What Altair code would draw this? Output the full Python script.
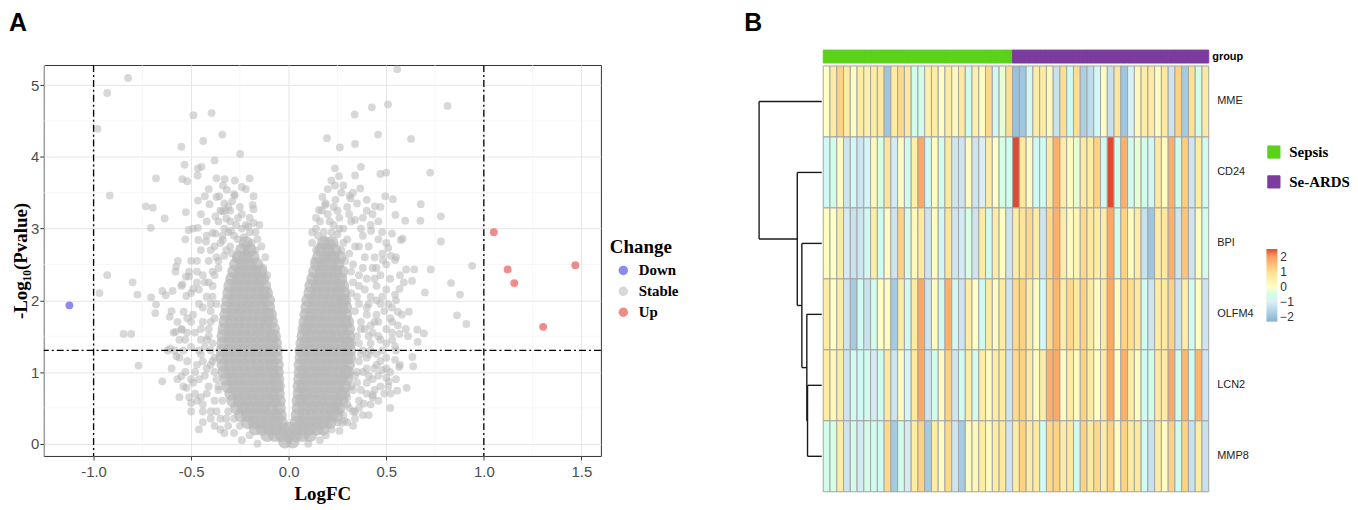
import altair as alt
import pandas as pd

# ================= Panel A : volcano plot =================
x_ticks = [-1.0, -0.5, 0.0, 0.5, 1.0, 1.5]
x_minor = [-1.25, -0.75, -0.25, 0.25, 0.75, 1.25]
y_ticks = [0, 1, 2, 3, 4, 5]
y_minor = [0.5, 1.5, 2.5, 3.5, 4.5]
logfc_cut = [-1.0, 1.0]
pvalue_cut = [1.301]

down_logfc = [-1.124]
down_logp = [1.93]
up_logfc = [1.051, 1.122, 1.156, 1.469, 1.304]
up_logp = [2.95, 2.43, 2.24, 2.49, 1.63]

# scattered "Stable" genes, left side (LogFC,-log10 p)
stable_left = """
-0.823,5.10 -0.93,4.89 -0.98,4.39 -0.917,3.46 -0.93,2.35 -0.97,2.10 -0.80,2.25 -0.775,2.08
-0.705,2.04 -0.68,1.94 -0.684,1.82 -0.61,1.77 -0.846,1.53 -0.807,1.53 -0.77,1.09 -0.648,0.87
-0.732,3.31 -0.696,3.29 -0.68,3.70 -0.707,3.01 -0.636,3.14 -0.488,4.58 -0.395,4.61 -0.34,4.31
-0.438,4.22 -0.55,4.14 -0.249,4.04 -0.38,3.95 -0.534,3.89 -0.447,3.86 -0.465,3.84 -0.467,3.74
-0.545,3.69 -0.52,3.66 -0.276,3.67 -0.328,3.69 -0.337,3.60 -0.317,3.54 -0.37,3.44 -0.356,3.45
-0.465,3.39 -0.406,3.34 -0.276,3.46 -0.185,3.33 -0.18,3.27 -0.527,3.23 -0.34,3.24 -0.326,3.25
-0.376,3.17 -0.32,3.14 -0.465,3.01 -0.513,2.98 -0.39,2.94 -0.207,3.03 -0.296,2.97 -0.463,2.84
-0.424,2.82 -0.376,2.93 -0.337,2.84 -0.568,2.55 -0.577,2.47 -0.527,2.33 -0.51,2.33 -0.648,2.13
-0.63,2.07 -0.595,2.13 -0.525,2.06 -0.545,2.22 -0.49,2.16 -0.538,1.84 -0.58,1.56 -0.547,1.59
-0.607,1.33 -0.575,1.22 -0.584,1.30 -0.55,0.94 -0.524,0.78 -0.50,0.57
-0.42,2.9 -0.45,2.7 -0.41,2.55 -0.47,2.4 -0.43,2.25 -0.5,2.1 -0.46,1.95 -0.4,1.85 -0.52,1.75
-0.44,1.7 -0.48,1.55 -0.42,1.45 -0.5,1.35 -0.45,1.25 -0.39,1.15 -0.47,1.1 -0.43,0.95 -0.49,0.85
-0.41,0.8 -0.45,0.65 -0.38,0.6 -0.4,0.45 -0.35,0.35 -0.31,0.25 -0.28,0.15 -0.55,1.6 -0.53,1.45
-0.56,1.2 -0.53,1.0 -0.57,0.9 -0.38,2.75 -0.36,2.45 -0.39,2.2 -0.37,1.95 -0.41,1.6 -0.4,1.3
-0.38,1.0 -0.36,0.75 -0.33,3.0 -0.3,3.1 -0.24,3.0 -0.2,2.95 -0.36,3.1 -0.26,2.85 -0.42,3.1
-0.45,3.2 -0.2,3.15 -0.58,2.4 -0.55,2.2 -0.6,1.85 -0.62,1.3 -0.5,2.55 -0.53,2.85 -0.49,3.0
-0.44,0.55 -0.48,0.7 -0.3,2.75 -0.22,2.78 -0.17,2.7 -0.33,2.62 -0.16,2.85 -0.25,3.3 -0.29,3.38
-0.22,3.55 -0.41,3.55 -0.43,3.45 -0.37,3.7 -0.24,3.2 -0.15,3.05 -0.27,3.05 -0.35,2.8 -0.39,2.4
-0.42,2.05 -0.4,1.7 -0.43,1.35 -0.42,1.05 -0.46,0.9 -0.37,0.45 -0.32,0.35 -0.45,1.45 -0.5,1.7
-0.47,2.25 -0.38,0.25 -0.33,0.15 -0.24,0.05 -0.16,0.0 -0.52,1.15 -0.6,1.05 -0.47,0.6 -0.42,0.7
-0.44,0.3
-0.37,2.6 -0.34,2.9 -0.31,2.95 -0.28,2.9 -0.23,2.88 -0.19,2.8 -0.21,2.7 -0.14,2.75 -0.12,2.6
-0.13,2.45 -0.11,2.35 -0.32,2.7 -0.29,2.65 -0.36,2.55 -0.4,2.7 -0.38,2.35 -0.41,2.25 -0.39,2.05
-0.4,1.95 -0.38,1.75 -0.41,1.5 -0.39,1.4 -0.38,1.2 -0.4,1.1 -0.37,0.9 -0.36,0.8 -0.34,0.6
-0.31,0.45 -0.28,0.35 -0.25,0.25 -0.2,0.12 -0.44,2.35 -0.46,2.15 -0.44,1.9 -0.45,1.6 -0.46,1.3
-0.44,1.15 -0.48,1.0 -0.5,0.9 -0.51,0.65 -0.44,0.45 -0.4,0.35 -0.35,0.2 -0.3,3.25 -0.26,3.15
-0.22,3.05 -0.18,3.08 -0.33,3.35 -0.28,3.48 -0.18,3.45 -0.24,3.58 -0.2,3.7 -0.31,3.3 -0.35,3.25
-0.17,2.95 -0.27,2.58 -0.47,2.55 -0.51,2.4 -0.49,1.8 -0.52,1.55 -0.56,1.45 -0.54,1.3 -0.57,1.7
-0.59,1.55 -0.54,0.8 -0.56,0.65 -0.5,0.45 -0.46,0.2
"""

# scattered "Stable" genes, right side
stable_right = """
0.556,5.22 0.509,4.73 0.426,4.69 0.814,4.71 0.338,4.59 0.458,4.31 0.627,4.25 0.196,4.26
0.34,4.18 0.262,4.13 0.237,3.84 0.37,3.86 0.50,3.78 0.47,3.76 0.725,3.78 0.34,3.74 0.258,3.73
0.219,3.67 0.237,3.60 0.367,3.56 0.173,3.44 0.312,3.46 0.317,3.42 0.495,3.45 0.534,3.41
0.677,3.34 0.40,3.40 0.442,3.31 0.155,3.26 0.187,3.33 0.547,3.19 0.78,3.17 0.597,3.11 0.675,3.11
0.46,3.10 0.34,3.12 0.422,2.97 0.479,2.95 0.529,2.93 0.584,2.86 0.78,2.82 0.51,2.73 0.728,2.43
0.643,2.43 0.94,2.48 0.832,2.24 0.878,2.08 0.698,2.11 0.862,1.79 0.91,1.67 0.616,1.84 0.659,1.59
0.693,1.54 0.611,1.50 0.568,1.53 0.661,1.42 0.545,1.36 0.634,1.21 0.638,1.08 0.566,1.07
0.545,1.17 0.513,0.87 0.522,0.70 0.556,0.74 0.604,0.78 0.479,1.03 0.50,0.92 0.34,0.45 0.271,0.29
0.285,0.32 0.385,0.56 0.431,0.68 0.529,1.90 0.559,1.84 0.545,2.08 0.568,2.16 0.59,2.25 0.602,2.43
0.632,2.27 0.524,2.62 0.545,2.56 0.575,2.84 0.483,2.56
0.38,2.9 0.41,2.75 0.39,2.6 0.43,2.45 0.4,2.3 0.45,2.2 0.42,2.05 0.47,1.95 0.4,1.8 0.44,1.7
0.39,1.6 0.46,1.5 0.42,1.4 0.48,1.3 0.4,1.2 0.45,1.1 0.38,1.0 0.43,0.9 0.47,0.8 0.4,0.7 0.36,0.6
0.33,0.45 0.3,0.3 0.26,0.18 0.5,1.6 0.53,1.45 0.5,1.2 0.52,1.0 0.46,0.6 0.37,3.0 0.32,3.1 0.28,3.0
0.23,3.05 0.42,3.05 0.46,2.85 0.48,2.65 0.5,2.5 0.52,2.3 0.55,2.0 0.49,1.85 0.36,2.2 0.37,1.7
0.38,1.3 0.35,0.85 0.2,3.2 0.25,3.25 0.3,3.3 0.18,2.95 0.15,2.9 0.35,3.35 0.43,3.2 0.47,3.3
0.5,2.8 0.55,2.6 0.57,2.35 0.58,1.8 0.6,1.6 0.55,1.3 0.34,0.35 0.3,0.55 0.2,3.55 0.28,3.6
0.16,3.1 0.12,2.95 0.34,2.75 0.3,2.85 0.27,2.7 0.22,2.8 0.19,2.75 0.33,2.5 0.36,2.35 0.35,2.05
0.34,1.85 0.35,1.5 0.36,1.15 0.33,0.75 0.3,0.65 0.26,0.45 0.21,0.3 0.16,0.05 0.1,0.0 0.24,3.4
0.19,3.35 0.14,3.0 0.4,3.25 0.44,2.6 0.47,2.35 0.41,1.95 0.45,1.8 0.43,1.55 0.41,1.25 0.44,1.05
0.4,0.85 0.38,0.4 0.5,1.4 0.53,1.7 0.47,1.15 0.42,0.55 0.33,3.5 0.27,3.5
0.31,2.65 0.28,2.8 0.25,2.92 0.22,2.95 0.18,2.85 0.16,2.75 0.14,2.7 0.13,2.55 0.12,2.8 0.29,2.55
0.32,2.4 0.33,2.25 0.32,2.1 0.36,1.95 0.37,1.6 0.36,1.4 0.37,1.25 0.35,1.0 0.34,0.95 0.32,0.8
0.31,0.5 0.28,0.4 0.25,0.3 0.22,0.2 0.19,0.12 0.38,2.45 0.39,2.15 0.4,1.9 0.42,1.65 0.41,1.5
0.42,1.3 0.4,1.05 0.41,0.95 0.37,0.75 0.36,0.5 0.33,0.25 0.44,2.3 0.45,2.0 0.46,1.7 0.47,1.45
0.45,1.25 0.46,0.95 0.44,0.75 0.43,0.65 0.41,0.4 0.5,2.15 0.51,1.95 0.52,1.75 0.5,1.05 0.49,0.7
0.52,0.5 0.21,3.1 0.26,3.15 0.31,3.2 0.17,3.25 0.23,3.3 0.14,3.15 0.38,3.15 0.36,2.75 0.26,3.0
0.2,2.6 0.17,2.5 0.45,2.45 0.48,2.05 0.53,1.55 0.56,1.65 0.57,1.1 0.55,0.9 0.51,0.8
"""

# dense V-shaped core of "Stable" genes: "-log10p: LogFC values"
stable_core = """
0.03: -0.02 0.02
0.12: -0.11 -0.07 -0.035 0 0.035 0.07 0.11
0.21: -0.17 -0.135 -0.1 -0.065 -0.03 0.005 0.04 0.075 0.11 0.145 0.175
0.30: -0.21 -0.175 -0.14 -0.105 -0.07 -0.04 0.04 0.07 0.105 0.14 0.175 0.21
0.40: -0.245 -0.21 -0.175 -0.14 -0.105 -0.07 -0.045 0.045 0.08 0.115 0.15 0.185 0.22 0.245
0.50: -0.265 -0.23 -0.195 -0.16 -0.125 -0.09 -0.05 0.05 0.085 0.12 0.155 0.19 0.225 0.255
0.60: -0.285 -0.25 -0.215 -0.18 -0.145 -0.11 -0.075 -0.05 0.05 0.07 0.105 0.14 0.175 0.21 0.245 0.27
0.70: -0.295 -0.26 -0.225 -0.19 -0.155 -0.12 -0.085 -0.055 0.055 0.09 0.125 0.16 0.195 0.23 0.265 0.28
0.80: -0.31 -0.275 -0.24 -0.205 -0.17 -0.135 -0.1 -0.065 -0.055 0.055 0.075 0.11 0.145 0.18 0.215 0.25 0.285
0.90: -0.32 -0.285 -0.25 -0.215 -0.18 -0.145 -0.11 -0.075 -0.058 0.058 0.09 0.125 0.16 0.195 0.23 0.265 0.295
1.00: -0.33 -0.295 -0.26 -0.225 -0.19 -0.155 -0.12 -0.085 -0.06 0.06 0.08 0.115 0.15 0.185 0.22 0.255 0.29 0.3
1.10: -0.335 -0.3 -0.265 -0.23 -0.195 -0.16 -0.125 -0.09 -0.06 0.06 0.095 0.13 0.165 0.2 0.235 0.27 0.305
1.20: -0.34 -0.305 -0.27 -0.235 -0.2 -0.165 -0.13 -0.095 -0.065 0.065 0.085 0.12 0.155 0.19 0.225 0.26 0.295 0.31
1.30: -0.34 -0.305 -0.27 -0.235 -0.2 -0.165 -0.13 -0.095 -0.065 0.065 0.1 0.135 0.17 0.205 0.24 0.275 0.31
1.40: -0.335 -0.3 -0.265 -0.23 -0.195 -0.16 -0.125 -0.09 -0.07 0.07 0.09 0.125 0.16 0.195 0.23 0.265 0.3 0.31
1.50: -0.335 -0.3 -0.265 -0.23 -0.195 -0.16 -0.125 -0.09 -0.075 0.075 0.105 0.14 0.175 0.21 0.245 0.28 0.305
1.60: -0.33 -0.295 -0.26 -0.225 -0.19 -0.155 -0.12 -0.08 0.08 0.095 0.13 0.165 0.2 0.235 0.27 0.305
1.70: -0.325 -0.29 -0.255 -0.22 -0.185 -0.15 -0.115 -0.09 0.085 0.11 0.145 0.18 0.215 0.25 0.285 0.3
1.80: -0.32 -0.285 -0.25 -0.215 -0.18 -0.145 -0.11 -0.095 0.09 0.12 0.155 0.19 0.225 0.26 0.29
1.90: -0.315 -0.28 -0.245 -0.21 -0.175 -0.14 -0.105 0.095 0.13 0.165 0.2 0.235 0.27 0.29
2.00: -0.31 -0.275 -0.24 -0.205 -0.17 -0.135 -0.105 0.1 0.135 0.17 0.205 0.24 0.275 0.285
2.10: -0.305 -0.27 -0.235 -0.2 -0.165 -0.13 -0.115 0.11 0.145 0.18 0.215 0.25 0.28
2.20: -0.3 -0.265 -0.23 -0.195 -0.16 -0.125 0.115 0.15 0.185 0.22 0.255 0.275
2.30: -0.29 -0.255 -0.22 -0.185 -0.15 -0.135 0.125 0.16 0.195 0.23 0.265
2.40: -0.28 -0.245 -0.21 -0.175 -0.145 0.135 0.17 0.205 0.24 0.27
2.50: -0.27 -0.235 -0.2 -0.165 0.145 0.18 0.215 0.25
2.60: -0.255 -0.22 -0.185 0.155 0.19 0.225 0.26
2.70: -0.24 -0.2 0.165 0.2 0.235
2.80: -0.22 0.18 0.22
"""


def parse_pairs(s):
    return [tuple(float(v) for v in p.split(",")) for p in s.split()]


def parse_rows(s):
    out = []
    for line in s.strip().splitlines():
        yv, xs = line.split(":")
        for xv in xs.split():
            out.append((float(xv), float(yv)))
    return out


scatter_rows = [(x, y, "Stable") for x, y in parse_pairs(stable_left) + parse_pairs(stable_right)]
df_scatter = pd.DataFrame(scatter_rows, columns=["LogFC", "logp", "Change"])
df_core = pd.DataFrame([(x, y, "Stable") for x, y in parse_rows(stable_core)],
                       columns=["LogFC", "logp", "Change"])
df_sig = pd.DataFrame(
    [(x, y, "Down") for x, y in zip(down_logfc, down_logp)]
    + [(x, y, "Up") for x, y in zip(up_logfc, up_logp)],
    columns=["LogFC", "logp", "Change"])

SERIF = "Liberation Serif"
SANS = "Liberation Sans"

xs = alt.Scale(domain=[-1.255, 1.6], nice=False, zero=False)
ys = alt.Scale(domain=[-0.17, 5.28], nice=False, zero=False)
x_axis = alt.Axis(values=x_ticks, format=".1f", labelExpr="replace(datum.label, '−', '-')",
                  title="LogFC", titleFont=SERIF, titleFontSize=19,
                  titleFontWeight="bold", titleColor="black", titlePadding=5,
                  labelFont=SANS, labelFontSize=15, labelColor="#4D4D4D", labelPadding=5,
                  tickColor="#333333", tickSize=4, domain=False, grid=True,
                  gridColor="#E6E6E6", gridWidth=1)
y_axis = alt.Axis(values=y_ticks, format="d", title="-Log₁₀(Pvalue)", titleFont=SERIF,
                  titleFontSize=19, titleFontWeight="bold", titleColor="black", titlePadding=0,
                  labelFont=SANS, labelFontSize=15, labelColor="#4D4D4D", labelPadding=1,
                  tickColor="#333333", tickSize=4, domain=False, grid=True,
                  gridColor="#E6E6E6", gridWidth=1)


def X(field):
    return alt.X(field, type="quantitative", scale=xs, axis=x_axis)


def Y(field):
    return alt.Y(field, type="quantitative", scale=ys, axis=y_axis)


change_scale = alt.Scale(domain=["Down", "Stable", "Up"],
                         range=["#2A2AE7", "#B8B8B8", "#E92A2A"])
change_legend = alt.Legend(title="Change", orient="none", legendX=569, legendY=174,
                           titleFont=SERIF, titleFontSize=19, titleFontWeight="bold",
                           titleColor="black", titlePadding=6, labelFont=SERIF,
                           labelFontSize=15, labelFontWeight="bold", labelColor="black",
                           symbolType="circle", symbolSize=90, symbolOpacity=0.55,
                           symbolStrokeWidth=0, symbolOffset=6, labelOffset=8, rowPadding=5)
color_enc = alt.Color("Change:N", scale=change_scale, legend=change_legend)

minor_x = alt.Chart(pd.DataFrame({"v": x_minor})).mark_rule(
    color="#F2F2F2", strokeWidth=0.6).encode(x=X("v"))
minor_y = alt.Chart(pd.DataFrame({"v": y_minor})).mark_rule(
    color="#F2F2F2", strokeWidth=0.6).encode(y=Y("v"))

pts_scatter = alt.Chart(df_scatter).mark_circle(size=62, opacity=0.55).encode(
    x=X("LogFC"), y=Y("logp"), color=color_enc)
pts_core = alt.Chart(df_core).mark_circle(size=190, opacity=0.72).encode(
    x=X("LogFC"), y=Y("logp"), color=color_enc)
pts_sig = alt.Chart(df_sig).mark_circle(size=62, opacity=0.55).encode(
    x=X("LogFC"), y=Y("logp"), color=color_enc)

dash = [7, 3, 2, 3]
vcut = alt.Chart(pd.DataFrame({"v": logfc_cut})).mark_rule(
    color="black", strokeWidth=1.3, strokeDash=dash).encode(x=X("v"))
hcut = alt.Chart(pd.DataFrame({"v": pvalue_cut})).mark_rule(
    color="black", strokeWidth=1.3, strokeDash=dash).encode(y=Y("v"))

chart_a = alt.layer(minor_x, minor_y, pts_scatter, pts_core, pts_sig, vcut, hcut).properties(
    width=560, height=393,
    view=alt.ViewBackground(stroke="#333333", strokeWidth=1),
    title=alt.TitleParams("A", anchor="start", frame="group", font=SANS, fontSize=25,
                          fontWeight="bold", color="black", dx=-35, offset=29),
)

# ================= Panel B : heatmap =================
genes = ["MME", "CD24", "BPI", "OLFM4", "LCN2", "MMP8"]
samples = list(range(1, 58))
groups = ["Sepsis"] * 28 + ["Se-ARDS"] * 29

expr = {
    "MME": [0.0, 0.6, 1.2, 0.6, 0.1, 0.6, 0.5, 0.6, 0.7, -1.9, 0.6, 1.1, 0.7, -0.5, -0.5, 0.5,
            0.6, 0.1, 0.6, 0.2, 0.7, -0.6, 0.5, 0.1, 1.1, -0.7, -0.2, 1.0, -2.0, -1.9, -0.7, 0.6,
            0.6, 0.2, -1.3, 1.0, -0.6, 1.0, -1.7, -1.4, -0.7, 0.1, -1.3, 0.8, -1.9, -0.9, 0.2,
            0.6, 0.7, 0.1, 0.7, -1.2, 1.2, -1.8, 0.9, -0.5, 0.7],
    "CD24": [-0.7, -0.5, 0.1, -1.2, -0.7, -1.2, -0.8, 0.2, -0.4, 0.8, -1.1, 0.1, -0.6, 0.5, 1.8,
             -0.7, 0.1, -0.5, 0.7, -1.2, -1.2, 0.1, -1.2, -1.0, 0.6, 0.0, -0.4, -0.6, 2.5, 0.7,
             0.1, -0.7, -0.6, 0.6, 1.7, 0.6, 0.1, -0.2, 0.7, 0.6, 1.2, -0.6, 2.5, -0.5, 1.7, -0.6,
             -0.2, -0.5, -0.7, 0.7, 0.1, 1.7, -0.6, 1.3, -1.2, 0.6, -0.6],
    "BPI": [0.1, 0.0, 0.6, -1.1, -1.3, -1.2, -0.7, 0.6, -0.6, 0.1, -1.2, 1.2, -0.5, 0.2, 0.7,
            -1.2, 0.1, -0.7, 0.8, -1.2, -1.1, -0.4, -1.2, 0.6, -0.6, 0.6, 0.1, -1.2, 0.6, 0.8,
            1.1, 0.6, -1.2, 1.1, 1.7, 0.6, 0.1, 0.3, 1.1, 0.7, 0.6, 0.6, 1.8, -0.5, 1.2, 0.1, 0.6,
            -1.3, -1.9, 0.6, 0.7, 1.7, -1.2, 1.4, -1.2, 0.1, -0.5],
    "OLFM4": [0.6, 0.0, 0.6, -1.2, -1.8, -0.6, -1.3, -0.5, 0.0, 0.1, -1.8, 0.6, -0.6, 0.6, 1.8,
              -1.2, 0.1, -0.6, 1.7, -0.7, -1.2, 0.6, 0.0, -0.6, 0.6, 0.1, 0.6, -1.2, 1.1, 1.2,
              0.6, 0.1, -0.7, 1.1, 1.6, 0.6, 1.1, 0.7, 1.2, 0.6, 0.1, 0.7, 1.8, 0.1, 1.2, 1.0, 0.7,
              -0.6, -1.2, 0.6, 0.7, 1.2, -1.2, 0.6, -0.6, 0.1, -1.2],
    "LCN2": [0.6, 0.2, 0.6, -1.2, -0.6, -0.7, -0.6, -1.1, -0.6, 0.7, -1.2, 0.1, -0.7, 0.7, 1.8,
             -1.2, -0.5, 0.1, 1.2, -1.2, -0.6, 0.6, -0.6, 0.6, 0.1, 0.6, 0.6, -1.2, 1.1, 1.2, 0.6,
             0.1, 0.6, 1.7, 1.8, 0.1, 0.6, 0.1, 1.2, 0.6, 0.0, 0.7, 1.8, 0.0, 1.7, 0.6, 0.1, -0.6,
             -0.5, 0.7, 0.6, 1.8, -0.6, 1.6, -0.6, 1.6, -1.2],
    "MMP8": [-0.5, -0.4, 0.6, -1.2, -0.5, -1.1, -0.5, -0.6, -0.6, 1.1, -1.8, -0.5, -1.1, 0.6, 1.2,
             -1.8, 0.6, 0.1, 1.1, -1.2, -1.8, 0.1, 0.2, 0.6, 0.1, 0.6, 0.7, -1.2, 0.6, 1.2, 0.6,
             0.7, -0.6, 1.1, 1.2, 0.6, 0.7, -0.6, 1.2, 0.6, 1.1, 0.6, 1.2, 0.1, 1.2, 0.6, 0.7,
             -0.6, -1.3, 0.6, 0.1, 1.2, -0.6, 1.2, -1.3, 0.6, -1.3],
}

# hierarchical clustering of rows: (child A, child B, merge height)
merges = [("LCN2", "MMP8", 1.43), ("OLFM4", "m1", 1.50), ("BPI", "m2", 2.00),
          ("CD24", "m3", 2.46), ("MME", "m4", 6.30)]

df_heat = pd.DataFrame([(s, g, expr[g][i]) for g in genes for i, s in enumerate(samples)],
                       columns=["sample", "gene", "value"])
df_group = pd.DataFrame({"sample": samples, "group": groups, "lab": ["group"] * len(samples)})

node = {g: (i + 0.5, 0.0) for i, g in enumerate(genes)}
segs = []
for k, (a, b, h) in enumerate(merges, start=1):
    pa, ha = node[a]
    pb, hb = node[b]
    segs.append((ha, h, pa, pa))
    segs.append((hb, h, pb, pb))
    segs.append((h, h, pa, pb))
    node["m%d" % k] = ((pa + pb) / 2, h)
df_dend = pd.DataFrame(segs, columns=["h1", "h2", "p1", "p2"])

HB_W, HB_H = 454, 429
col_scale = alt.Scale(domain=samples, range=[66.5, HB_W], paddingInner=0, paddingOuter=0)
x_cols = alt.X("sample:O", scale=col_scale, axis=None)

heat_colors = alt.Scale(domain=[-2.3, -1, 0, 1, 2, 2.5],
                        range=["#86B4D6", "#DCEEF5", "#FFFFC6", "#FEDF8F", "#FB9B60", "#DF4A32"])
heat = alt.Chart(df_heat).mark_rect(stroke="#A3A3A3", strokeWidth=1).encode(
    x=x_cols,
    y=alt.Y("gene:N", scale=alt.Scale(domain=genes, range=[1, HB_H], paddingInner=0,
                                      paddingOuter=0),
            axis=alt.Axis(orient="right", title=None, ticks=False, domain=False, labelFont=SANS,
                          labelFontSize=11, labelColor="#222222", labelPadding=8)),
    color=alt.Color("value:Q", scale=heat_colors,
                    legend=alt.Legend(title=None, orient="none", legendX=512, legendY=185,
                                      direction="vertical", gradientLength=73,
                                      gradientThickness=11, values=[-2, -1, 0, 1, 2],
                                      labelFont=SANS, labelFontSize=12, labelColor="#333333",
                                      gradientStrokeWidth=0, labelOffset=3)),
)

group_scale = alt.Scale(domain=["Sepsis", "Se-ARDS"], range=["#5CD11B", "#7C3B9F"])
group_bar = alt.Chart(df_group).mark_rect(strokeWidth=1).encode(
    x=x_cols,
    y=alt.Y("lab:N", scale=alt.Scale(domain=["group"], range=[-15, -2], paddingInner=0,
                                     paddingOuter=0),
            axis=alt.Axis(orient="right", title=None, ticks=False, domain=False, labelFont=SANS,
                          labelFontSize=11, labelFontWeight="bold", labelColor="black",
                          labelPadding=3)),
    stroke=alt.Stroke("group:N", scale=group_scale, legend=None),
    color=alt.Color("group:N", scale=group_scale,
                    legend=alt.Legend(title=None, orient="none", legendX=512, legendY=80,
                                      symbolType="square", symbolSize=150,
                                      symbolStrokeColor="#7F7F7F", symbolStrokeWidth=1,
                                      labelFont=SERIF, labelFontSize=15, labelFontWeight="bold",
                                      labelColor="black", rowPadding=13, labelOffset=8)),
)

dendro = alt.Chart(df_dend).mark_rule(color="#1A1A1A", strokeWidth=1.4).encode(
    x=alt.X("h1:Q", scale=alt.Scale(domain=[0, 6.3], range=[65, 2]), axis=None),
    x2="h2:Q",
    y=alt.Y("p1:Q", scale=alt.Scale(domain=[0, 6], range=[1, HB_H]), axis=None),
    y2="p2:Q",
)

chart_b = alt.layer(group_bar, heat, dendro).resolve_scale(
    x="independent", y="independent", color="independent", stroke="independent"
).properties(
    width=HB_W, height=HB_H,
    title=alt.TitleParams("B", anchor="start", frame="group", font=SANS, fontSize=25,
                          fontWeight="bold", color="black", dx=-13, offset=14),
)

chart = alt.hconcat(chart_a, chart_b, spacing=142).properties(padding=0).configure_view(
    stroke=None
)

chart.save("out.html", embed_options={"renderer": "svg", "actions": False})
